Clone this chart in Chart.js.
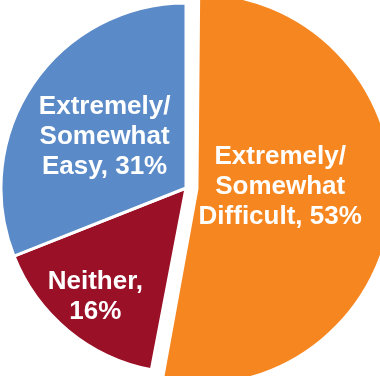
<!DOCTYPE html>
<html>
<head>
<meta charset="utf-8">
<style>
  html, body { margin: 0; padding: 0; background: #fff; }
  #wrap { width: 380px; height: 376px; }
</style>
<script src="https://cdn.jsdelivr.net/npm/chart.js@4/dist/chart.umd.min.js"></script>
</head>
<body>
<div id="wrap"><canvas id="pieChart"></canvas></div>
<script>
let categories = ["Extremely/\nSomewhat\nDifficult,", "Neither,", "Extremely/\nSomewhat\nEasy,"];
let shares = [53, 16, 31];
let colors = ["#F6861F", "#9A1027", "#5A8AC7"];
// whether the percentage goes on its own line
let pctOwnLine = [false, true, false];

// label centres, as fractions of the radius from each slice's own centre
let labelSpots = [[0.45, -0.01], [-0.49, 0.59], [-0.44, -0.275]];

const sliceLabels = {
  id: "sliceLabels",
  afterDatasetsDraw(chart) {
    let ctx = chart.ctx;
    let arcs = chart.getDatasetMeta(0).data;
    ctx.save();
    ctx.fillStyle = "#fff";
    ctx.font = "bold 26px 'Liberation Sans', Arial, sans-serif";
    ctx.textAlign = "center";
    ctx.textBaseline = "middle";
    arcs.forEach((arc, i) => {
      let off = (arc.options.offset || 0) / 4;
      let mid = (arc.startAngle + arc.endAngle) / 2;
      let cx = arc.x + Math.cos(mid) * off;
      let cy = arc.y + Math.sin(mid) * off;
      let r = arc.outerRadius;
      let sep = pctOwnLine[i] ? "\n" : " ";
      let lines = (categories[i] + sep + shares[i] + "%").split("\n");
      let lh = 30;
      let x = cx + labelSpots[i][0] * r;
      let y = cy + labelSpots[i][1] * r - (lines.length - 1) * lh / 2;
      lines.forEach((t, k) => ctx.fillText(t, x, y + k * lh));
    });
    ctx.restore();
  }
};

new Chart(document.getElementById("pieChart"), {
  type: "pie",
  data: {
    labels: categories,
    datasets: [{
      data: shares,
      backgroundColor: colors,
      borderColor: "#fff",
      borderWidth: 3,
      offset: [44, 0, 0]
    }]
  },
  options: {
    responsive: true,
    maintainAspectRatio: false,
    animation: false,
    radius: 185,
    layout: { padding: { left: 0, right: 8, top: 0, bottom: 0 } },
    plugins: { legend: { display: false }, tooltip: { enabled: false } }
  },
  plugins: [sliceLabels]
});
</script>
</body>
</html>
